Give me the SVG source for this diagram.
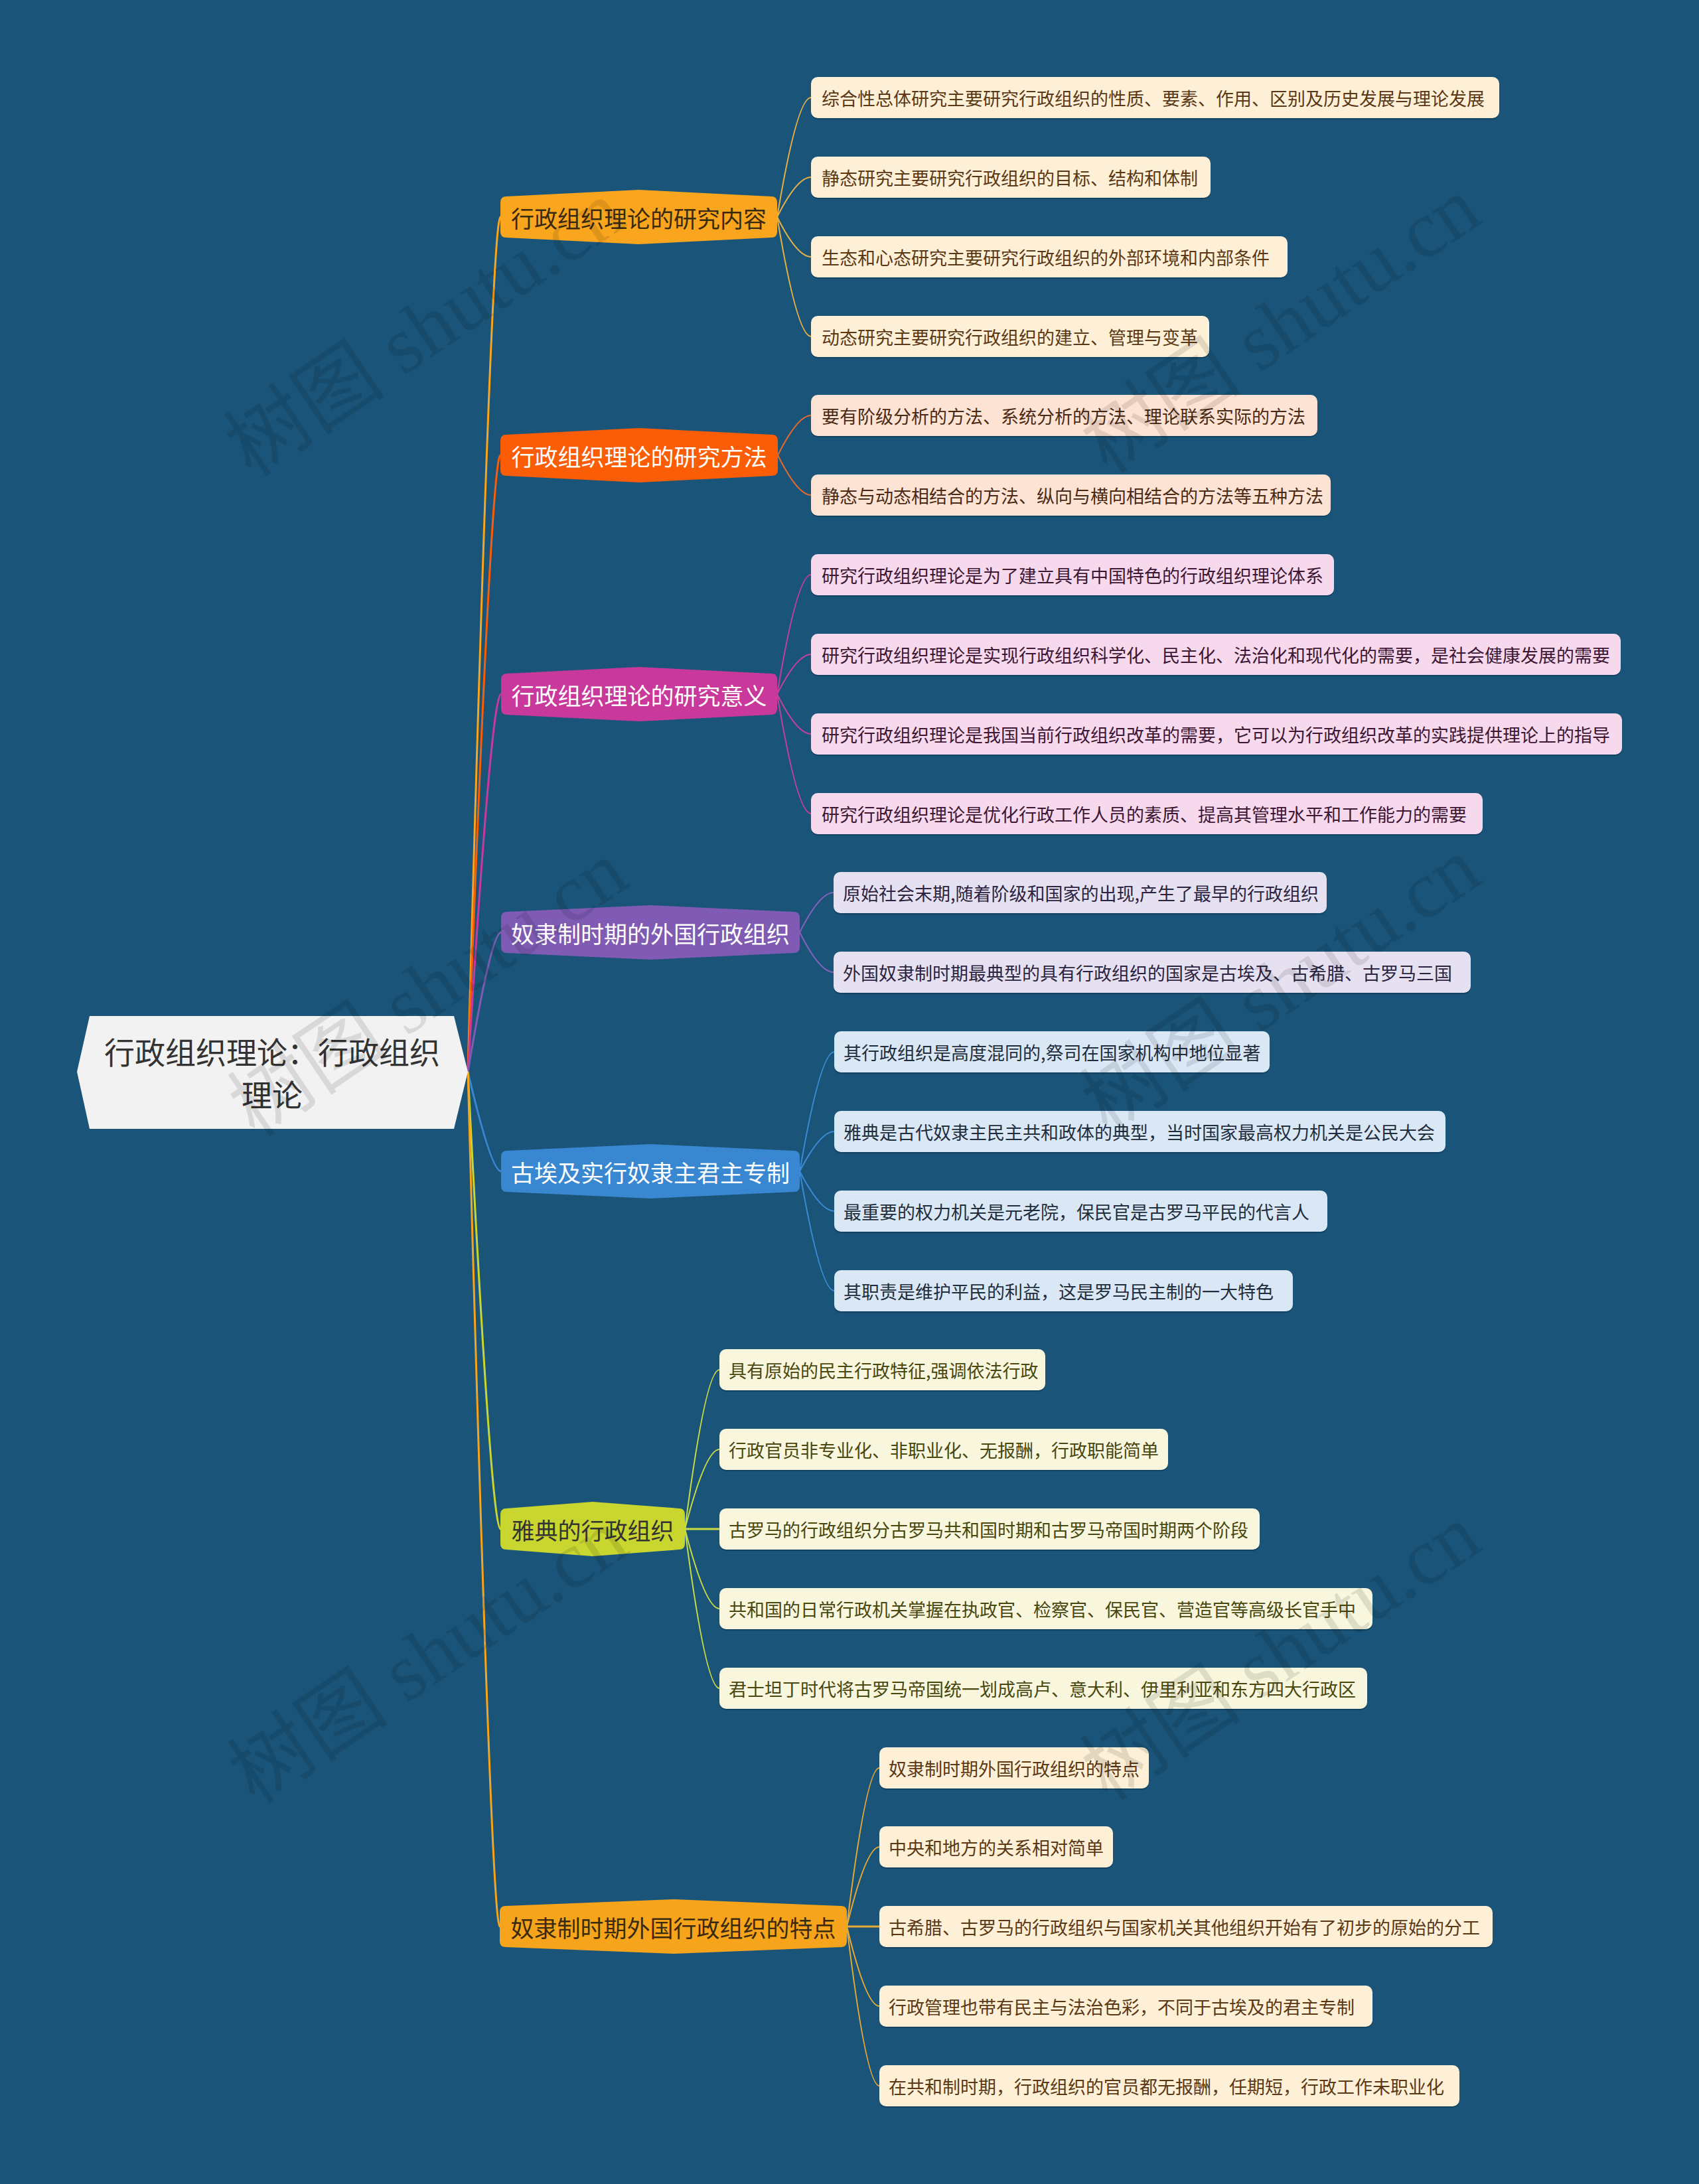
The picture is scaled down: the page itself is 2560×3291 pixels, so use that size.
<svg xmlns="http://www.w3.org/2000/svg" width="2560" height="3291" viewBox="0 0 2560 3291">
<style>
text{font-family:"Noto Sans CJK SC","Noto Sans",sans-serif}
.lt{font-size:27px;dominant-baseline:central}
.bt{font-size:35px;dominant-baseline:central;text-anchor:middle}
.mc{fill:none;stroke-width:3}
.lc{fill:none;stroke-width:2}
.sh{fill:#0b3350;opacity:.55}
.wm{font-family:"Liberation Serif","Noto Sans CJK SC",serif;font-size:122px;fill:#000;opacity:.1;text-anchor:middle;dominant-baseline:central}
</style>
<rect width="2560" height="3291" fill="#1a5479"/>
<g id="connectors">
<path class="mc" stroke="#f9a51e" d="M705,1615 Q740,327 754,327"/>
<path class="mc" stroke="#fa5d05" d="M705,1615 Q740,686 754,686"/>
<path class="mc" stroke="#c8399b" d="M705,1615 Q740,1046 755,1046"/>
<path class="mc" stroke="#7f5bb4" d="M705,1615 Q740,1405 755,1405"/>
<path class="mc" stroke="#3987d1" d="M705,1615 Q740,1765 755,1765"/>
<path class="mc" stroke="#c9d630" d="M705,1615 Q740,2304 754,2304"/>
<path class="mc" stroke="#f7a41d" d="M705,1615 Q740,2903 753,2903"/>
<g stroke="#e9b143">
<path class="lc" d="M1171,327 Q1201,147 1222,147"/>
<path class="lc" d="M1171,327 Q1201,267 1222,267"/>
<path class="lc" d="M1171,327 Q1201,387 1222,387"/>
<path class="lc" d="M1171,327 Q1201,507 1222,507"/>
</g>
<g stroke="#e8692a">
<path class="lc" d="M1172,686 Q1202,626 1222,626"/>
<path class="lc" d="M1172,686 Q1202,746 1222,746"/>
</g>
<g stroke="#c43f9f">
<path class="lc" d="M1171,1046 Q1201,866 1222,866"/>
<path class="lc" d="M1171,1046 Q1201,986 1222,986"/>
<path class="lc" d="M1171,1046 Q1201,1106 1222,1106"/>
<path class="lc" d="M1171,1046 Q1201,1226 1222,1226"/>
</g>
<g stroke="#8462ba">
<path class="lc" d="M1205,1405 Q1235,1345 1256,1345"/>
<path class="lc" d="M1205,1405 Q1235,1465 1256,1465"/>
</g>
<g stroke="#3b8ad5">
<path class="lc" d="M1205,1765 Q1236,1585 1257,1585"/>
<path class="lc" d="M1205,1765 Q1236,1705 1257,1705"/>
<path class="lc" d="M1205,1765 Q1236,1825 1257,1825"/>
<path class="lc" d="M1205,1765 Q1236,1945 1257,1945"/>
</g>
<g stroke="#c9dc42">
<path class="lc" d="M1032,2304 Q1063,2064 1084,2064"/>
<path class="lc" d="M1032,2304 Q1063,2184 1084,2184"/>
<path class="mc" d="M1032,2304 L1084,2304"/>
<path class="lc" d="M1032,2304 Q1063,2424 1084,2424"/>
<path class="lc" d="M1032,2304 Q1063,2544 1084,2544"/>
</g>
<g stroke="#e7a935">
<path class="lc" d="M1276,2903 Q1305,2664 1325,2664"/>
<path class="lc" d="M1276,2903 Q1305,2783 1325,2783"/>
<path class="mc" d="M1276,2903 L1325,2903"/>
<path class="lc" d="M1276,2903 Q1305,3023 1325,3023"/>
<path class="lc" d="M1276,2903 Q1305,3143 1325,3143"/>
</g>
</g>
<g id="root">
<polygon points="116,1615 135,1531 684,1531 705,1615 684,1701 135,1701" fill="#f2f2f2"/>
<text x="410" y="1583" font-size="46" fill="#333" text-anchor="middle" dominant-baseline="central">行政组织理论：行政组织</text>
<text x="410" y="1647" font-size="46" fill="#333" text-anchor="middle" dominant-baseline="central">理论</text>
</g>
<g id="b1"><path fill="#f9a51e" d="M754,305 Q754,296 763,296 L962.5,286 L1162,296 Q1171,296 1171,305 L1171,349 Q1171,358 1162,358 L962.5,368 L763,358 Q754,358 754,349 Z"/><text class="bt" x="962.5" y="327" fill="#3a2a10">行政组织理论的研究内容</text></g>
<g id="b2"><path fill="#fa5d05" d="M754,664 Q754,655 763,655 L963,645 L1163,655 Q1172,655 1172,664 L1172,708 Q1172,717 1163,717 L963,727 L763,717 Q754,717 754,708 Z"/><text class="bt" x="963" y="686" fill="#fff">行政组织理论的研究方法</text></g>
<g id="b3"><path fill="#c8399b" d="M755,1024 Q755,1015 764,1015 L963,1005 L1162,1015 Q1171,1015 1171,1024 L1171,1068 Q1171,1077 1162,1077 L963,1087 L764,1077 Q755,1077 755,1068 Z"/><text class="bt" x="963" y="1046" fill="#fff">行政组织理论的研究意义</text></g>
<g id="b4"><path fill="#7f5bb4" d="M755,1383 Q755,1374 764,1374 L980,1364 L1196,1374 Q1205,1374 1205,1383 L1205,1427 Q1205,1436 1196,1436 L980,1446 L764,1436 Q755,1436 755,1427 Z"/><text class="bt" x="980" y="1405" fill="#fff">奴隶制时期的外国行政组织</text></g>
<g id="b5"><path fill="#3987d1" d="M755,1743 Q755,1734 764,1734 L980,1724 L1196,1734 Q1205,1734 1205,1743 L1205,1787 Q1205,1796 1196,1796 L980,1806 L764,1796 Q755,1796 755,1787 Z"/><text class="bt" x="980" y="1765" fill="#fff">古埃及实行奴隶主君主专制</text></g>
<g id="b6"><path fill="#c9d630" d="M754,2282 Q754,2273 763,2273 L893,2263 L1023,2273 Q1032,2273 1032,2282 L1032,2326 Q1032,2335 1023,2335 L893,2345 L763,2335 Q754,2335 754,2326 Z"/><text class="bt" x="893" y="2304" fill="#333">雅典的行政组织</text></g>
<g id="b7"><path fill="#f7a41d" d="M753,2881 Q753,2872 762,2872 L1014.5,2862 L1267,2872 Q1276,2872 1276,2881 L1276,2925 Q1276,2934 1267,2934 L1014.5,2944 L762,2934 Q753,2934 753,2925 Z"/><text class="bt" x="1014.5" y="2903" fill="#3a2a10">奴隶制时期外国行政组织的特点</text></g>
<g id="leaves1" fill="#fdf0d6">
<g id="l0"><rect class="sh" x="1222" y="118" width="1037" height="62" rx="10"/><rect x="1222" y="116" width="1037" height="62" rx="10"/><text class="lt" x="1238" y="147" fill="#5a3815">综合性总体研究主要研究行政组织的性质、要素、作用、区别及历史发展与理论发展</text></g>
<g id="l1"><rect class="sh" x="1222" y="238" width="602" height="62" rx="10"/><rect x="1222" y="236" width="602" height="62" rx="10"/><text class="lt" x="1238" y="267" fill="#5a3815">静态研究主要研究行政组织的目标、结构和体制</text></g>
<g id="l2"><rect class="sh" x="1222" y="358" width="718" height="62" rx="10"/><rect x="1222" y="356" width="718" height="62" rx="10"/><text class="lt" x="1238" y="387" fill="#5a3815">生态和心态研究主要研究行政组织的外部环境和内部条件</text></g>
<g id="l3"><rect class="sh" x="1222" y="478" width="600" height="62" rx="10"/><rect x="1222" y="476" width="600" height="62" rx="10"/><text class="lt" x="1238" y="507" fill="#5a3815">动态研究主要研究行政组织的建立、管理与变革</text></g>
</g>
<g id="leaves2" fill="#fde3d4">
<g id="l4"><rect class="sh" x="1222" y="597" width="763" height="62" rx="10"/><rect x="1222" y="595" width="763" height="62" rx="10"/><text class="lt" x="1238" y="626" fill="#4a2a14">要有阶级分析的方法、系统分析的方法、理论联系实际的方法</text></g>
<g id="l5"><rect class="sh" x="1222" y="717" width="783" height="62" rx="10"/><rect x="1222" y="715" width="783" height="62" rx="10"/><text class="lt" x="1238" y="746" fill="#4a2a14">静态与动态相结合的方法、纵向与横向相结合的方法等五种方法</text></g>
</g>
<g id="leaves3" fill="#f6d9ec">
<g id="l6"><rect class="sh" x="1222" y="837" width="788" height="62" rx="10"/><rect x="1222" y="835" width="788" height="62" rx="10"/><text class="lt" x="1238" y="866" fill="#3d1634">研究行政组织理论是为了建立具有中国特色的行政组织理论体系</text></g>
<g id="l7"><rect class="sh" x="1222" y="957" width="1220" height="62" rx="10"/><rect x="1222" y="955" width="1220" height="62" rx="10"/><text class="lt" x="1238" y="986" fill="#3d1634">研究行政组织理论是实现行政组织科学化、民主化、法治化和现代化的需要，是社会健康发展的需要</text></g>
<g id="l8"><rect class="sh" x="1222" y="1077" width="1222" height="62" rx="10"/><rect x="1222" y="1075" width="1222" height="62" rx="10"/><text class="lt" x="1238" y="1106" fill="#3d1634">研究行政组织理论是我国当前行政组织改革的需要，它可以为行政组织改革的实践提供理论上的指导</text></g>
<g id="l9"><rect class="sh" x="1222" y="1197" width="1012" height="62" rx="10"/><rect x="1222" y="1195" width="1012" height="62" rx="10"/><text class="lt" x="1238" y="1226" fill="#3d1634">研究行政组织理论是优化行政工作人员的素质、提高其管理水平和工作能力的需要</text></g>
</g>
<g id="leaves4" fill="#e6e1f1">
<g id="l10"><rect class="sh" x="1256" y="1316" width="743" height="62" rx="10"/><rect x="1256" y="1314" width="743" height="62" rx="10"/><text class="lt" x="1270" y="1345" fill="#2b2340">原始社会末期,随着阶级和国家的出现,产生了最早的行政组织</text></g>
<g id="l11"><rect class="sh" x="1256" y="1436" width="960" height="62" rx="10"/><rect x="1256" y="1434" width="960" height="62" rx="10"/><text class="lt" x="1270" y="1465" fill="#2b2340">外国奴隶制时期最典型的具有行政组织的国家是古埃及、古希腊、古罗马三国</text></g>
</g>
<g id="leaves5" fill="#dae8f6">
<g id="l12"><rect class="sh" x="1257" y="1556" width="656" height="62" rx="10"/><rect x="1257" y="1554" width="656" height="62" rx="10"/><text class="lt" x="1271" y="1585" font-size="28" fill="#1f2d3d">其行政组织是高度混同的,祭司在国家机构中地位显著</text></g>
<g id="l13"><rect class="sh" x="1257" y="1676" width="921" height="62" rx="10"/><rect x="1257" y="1674" width="921" height="62" rx="10"/><text class="lt" x="1271" y="1705" font-size="28" fill="#1f2d3d">雅典是古代奴隶主民主共和政体的典型，当时国家最高权力机关是公民大会</text></g>
<g id="l14"><rect class="sh" x="1257" y="1796" width="743" height="62" rx="10"/><rect x="1257" y="1794" width="743" height="62" rx="10"/><text class="lt" x="1271" y="1825" font-size="28" fill="#1f2d3d">最重要的权力机关是元老院，保民官是古罗马平民的代言人</text></g>
<g id="l15"><rect class="sh" x="1257" y="1916" width="691" height="62" rx="10"/><rect x="1257" y="1914" width="691" height="62" rx="10"/><text class="lt" x="1271" y="1945" font-size="28" fill="#1f2d3d">其职责是维护平民的利益，这是罗马民主制的一大特色</text></g>
</g>
<g id="leaves6" fill="#f8f6dc">
<g id="l16"><rect class="sh" x="1084" y="2035" width="491" height="62" rx="10"/><rect x="1084" y="2033" width="491" height="62" rx="10"/><text class="lt" x="1098" y="2064" fill="#48470f">具有原始的民主行政特征,强调依法行政</text></g>
<g id="l17"><rect class="sh" x="1084" y="2155" width="676" height="62" rx="10"/><rect x="1084" y="2153" width="676" height="62" rx="10"/><text class="lt" x="1098" y="2184" fill="#48470f">行政官员非专业化、非职业化、无报酬，行政职能简单</text></g>
<g id="l18"><rect class="sh" x="1084" y="2275" width="814" height="62" rx="10"/><rect x="1084" y="2273" width="814" height="62" rx="10"/><text class="lt" x="1098" y="2304" fill="#48470f">古罗马的行政组织分古罗马共和国时期和古罗马帝国时期两个阶段</text></g>
<g id="l19"><rect class="sh" x="1084" y="2395" width="984" height="62" rx="10"/><rect x="1084" y="2393" width="984" height="62" rx="10"/><text class="lt" x="1098" y="2424" fill="#48470f">共和国的日常行政机关掌握在执政官、检察官、保民官、营造官等高级长官手中</text></g>
<g id="l20"><rect class="sh" x="1084" y="2515" width="976" height="62" rx="10"/><rect x="1084" y="2513" width="976" height="62" rx="10"/><text class="lt" x="1098" y="2544" fill="#48470f">君士坦丁时代将古罗马帝国统一划成高卢、意大利、伊里利亚和东方四大行政区</text></g>
</g>
<g id="leaves7" fill="#fdf0d6">
<g id="l21"><rect class="sh" x="1325" y="2635" width="406" height="62" rx="10"/><rect x="1325" y="2633" width="406" height="62" rx="10"/><text class="lt" x="1339" y="2664" fill="#5a3815">奴隶制时期外国行政组织的特点</text></g>
<g id="l22"><rect class="sh" x="1325" y="2754" width="352" height="62" rx="10"/><rect x="1325" y="2752" width="352" height="62" rx="10"/><text class="lt" x="1339" y="2783" fill="#5a3815">中央和地方的关系相对简单</text></g>
<g id="l23"><rect class="sh" x="1325" y="2874" width="924" height="62" rx="10"/><rect x="1325" y="2872" width="924" height="62" rx="10"/><text class="lt" x="1339" y="2903" fill="#5a3815">古希腊、古罗马的行政组织与国家机关其他组织开始有了初步的原始的分工</text></g>
<g id="l24"><rect class="sh" x="1325" y="2994" width="743" height="62" rx="10"/><rect x="1325" y="2992" width="743" height="62" rx="10"/><text class="lt" x="1339" y="3023" fill="#5a3815">行政管理也带有民主与法治色彩，不同于古埃及的君主专制</text></g>
<g id="l25"><rect class="sh" x="1325" y="3114" width="874" height="62" rx="10"/><rect x="1325" y="3112" width="874" height="62" rx="10"/><text class="lt" x="1339" y="3143" fill="#5a3815">在共和制时期，行政组织的官员都无报酬，任期短，行政工作未职业化</text></g>
</g>
<g id="watermarks">
<text class="wm" transform="translate(640,495) rotate(-34)">树图 shutu.cn</text>
<text class="wm" transform="translate(1930,490) rotate(-34)">树图 shutu.cn</text>
<text class="wm" transform="translate(645,1490) rotate(-34)">树图 shutu.cn</text>
<text class="wm" transform="translate(1930,1485) rotate(-34)">树图 shutu.cn</text>
<text class="wm" transform="translate(645,2495) rotate(-34)">树图 shutu.cn</text>
<text class="wm" transform="translate(1930,2490) rotate(-34)">树图 shutu.cn</text>
</g>
</svg>
